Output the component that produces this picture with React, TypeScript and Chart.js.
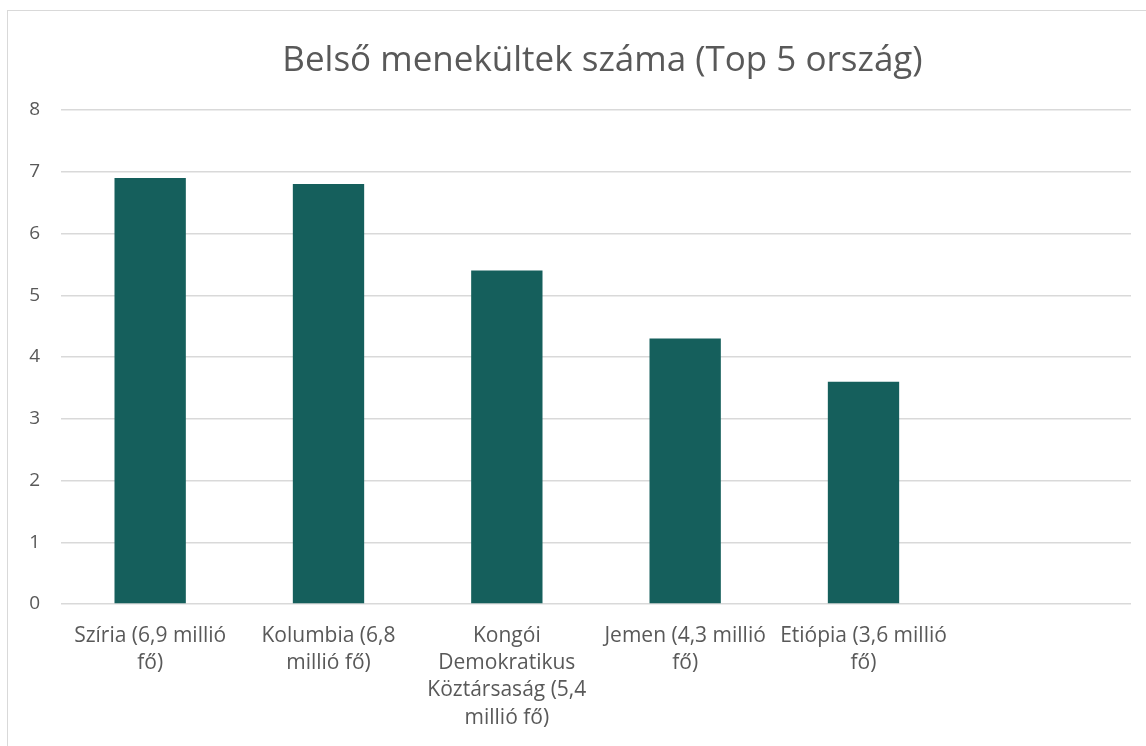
import React, { useEffect, useRef } from "react";
import { Chart, registerables } from "chart.js";

Chart.register(...registerables);

const TITLE = "Belső menekültek száma (Top 5 ország)";
const CATEGORIES: (string | string[])[] = [
  ["Szíria (6,9 millió", "fő)"],
  ["Kolumbia (6,8", "millió fő)"],
  ["Kongói", "Demokratikus", "Köztársaság (5,4", "millió fő)"],
  ["Jemen (4,3 millió", "fő)"],
  ["Etiópia (3,6 millió", "fő)"],
  "",
];
const VALUES: (number | null)[] = [6.9, 6.8, 5.4, 4.3, 3.6, null];
const Y_MIN = 0;
const Y_MAX = 8;
const Y_STEP = 1;

const FONT = "'Open Sans', Lato, sans-serif";
const TEXT = "#595959";

export default function App() {
  const ref = useRef<HTMLCanvasElement | null>(null);

  useEffect(() => {
    if (!ref.current) return;
    const chart = new Chart(ref.current, {
      type: "bar",
      data: {
        labels: CATEGORIES,
        datasets: [
          {
            data: VALUES,
            backgroundColor: "#155F5C",
            categoryPercentage: 1,
            barPercentage: 0.4,
            yAxisID: "y",
          },
        ],
      },
      options: {
        animation: false,
        responsive: false,
        maintainAspectRatio: false,
        layout: { padding: 0 },
        plugins: {
          legend: { display: false },
          tooltip: { enabled: false },
          title: {
            display: true,
            text: TITLE,
            color: TEXT,
            font: { family: FONT, size: 35, weight: "normal" as any, lineHeight: 1.2 },
            padding: { top: 29, bottom: 28 },
          },
        },
        scales: {
          x: {
            grid: { display: false, drawTicks: false },
            border: { display: false },
            ticks: {
              color: TEXT,
              font: { family: FONT, size: 21, lineHeight: 1.3 },
              autoSkip: false,
              maxRotation: 0,
              minRotation: 0,
              padding: 18,
            },
            afterFit: (s: any) => {
              s.height = 143;
            },
          },
          y: {
            min: Y_MIN,
            max: Y_MAX,
            grid: { color: "#d9d9d9", lineWidth: 1.5, drawTicks: false },
            border: { display: false },
            ticks: {
              stepSize: Y_STEP,
              color: TEXT,
              font: { family: FONT, size: 19 },
              padding: 21,
            },
            afterFit: (s: any) => {
              s.width = 53;
            },
          },
          spacer: {
            type: "linear",
            position: "right",
            min: Y_MIN,
            max: Y_MAX,
            grid: { display: false, drawTicks: false },
            border: { display: false },
            ticks: { display: false },
            afterFit: (s: any) => {
              s.width = 66;
            },
          },
        },
      },
    });
    return () => chart.destroy();
  }, []);

  return (
    <div
      style={{
        position: "fixed",
        left: 7,
        top: 10,
        width: 1200,
        height: 760,
        border: "1.5px solid #d9d9d9",
        background: "#fff",
        boxSizing: "border-box",
      }}
    >
      <canvas ref={ref} width={1189} height={736} style={{ display: "block" }} />
    </div>
  );
}
